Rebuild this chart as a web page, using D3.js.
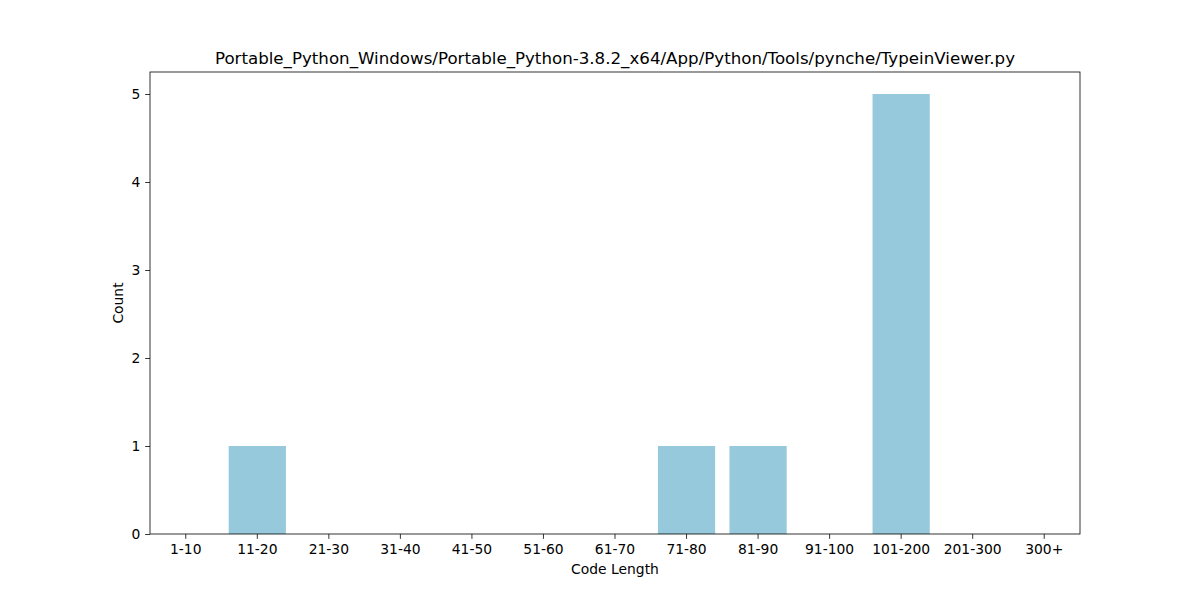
<!DOCTYPE html>
<html><head><meta charset="utf-8">
<script src="https://cdn.jsdelivr.net/npm/d3@7"></script>
<style>body{margin:0;background:#fff}svg{display:block}text{font-family:"DejaVu Sans",sans-serif}</style>
</head><body><svg id="c" width="1200" height="600"></svg>
<script>
const categories = ["1-10","11-20","21-30","31-40","41-50","51-60","61-70","71-80","81-90","91-100","101-200","201-300","300+"];
const counts = [0,1,0,0,0,0,0,1,1,0,5,0,0];
const yTicks = [0,1,2,3,4,5];
const title = "Portable_Python_Windows/Portable_Python-3.8.2_x64/App/Python/Tools/pynche/TypeinViewer.py";

const svg = d3.select("#c");
const L=150,R=1080,T=72,B=534;
const x = d3.scaleBand().domain(categories).range([L,R]).paddingInner(0.2).paddingOuter(0.1);
const y = d3.scaleLinear().domain([0, d3.max(counts)*1.05]).range([B,T]);

svg.append("g").selectAll("rect").data(categories).join("rect")
  .attr("x", d=>x(d)).attr("width", x.bandwidth())
  .attr("y", (d,i)=>y(counts[i])).attr("height",(d,i)=>B-y(counts[i]))
  .attr("fill","#96c9dc");

const xa = svg.append("g").attr("transform",`translate(0,${B})`)
  .call(d3.axisBottom(x).tickSize(4.86).tickPadding(4.9));
const ya = svg.append("g").attr("transform",`translate(${L},0)`)
  .call(d3.axisLeft(y).tickValues(yTicks).tickFormat(d3.format("d")).tickSize(4.86).tickPadding(4.9));
[xa,ya].forEach(a=>{a.select(".domain").remove();a.selectAll("text").attr("font-size","13.89px").attr("fill","#000");a.selectAll("line").attr("stroke","#000").attr("stroke-width",0.8);});

svg.append("rect").attr("x",L).attr("y",T).attr("width",R-L).attr("height",B-T)
  .attr("fill","none").attr("stroke","#000").attr("stroke-width",0.8);

svg.append("text").attr("x",(L+R)/2).attr("y",64).attr("text-anchor","middle").attr("font-size","16.67px").text(title);
svg.append("text").attr("x",(L+R)/2).attr("y",574).attr("text-anchor","middle").attr("font-size","13.89px").text("Code Length");
svg.append("text").attr("transform",`translate(123,${(T+B)/2}) rotate(-90)`).attr("text-anchor","middle").attr("font-size","13.89px").text("Count");
</script></body></html>
